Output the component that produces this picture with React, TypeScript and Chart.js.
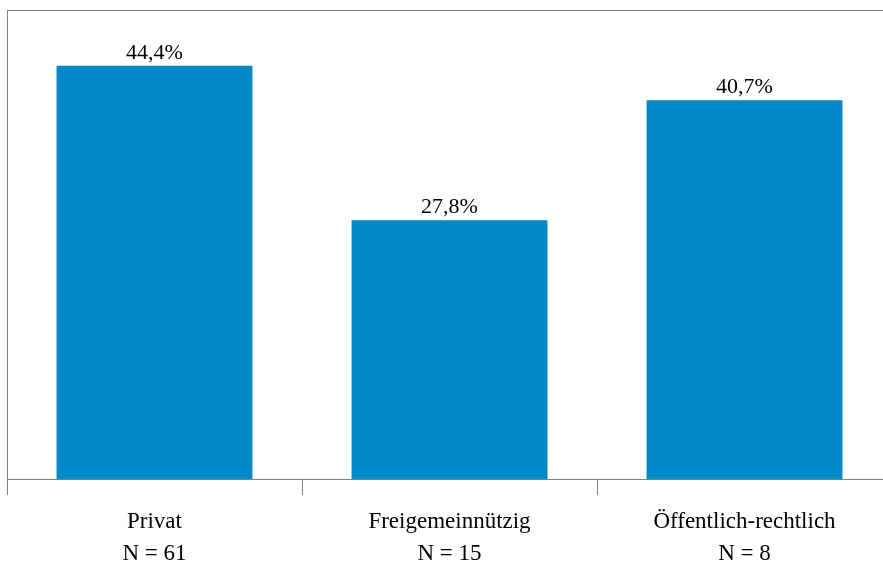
import React, { useEffect, useRef } from "react";
import { Chart, registerables } from "chart.js";

Chart.register(...registerables);

const categories = ["Privat", "Freigemeinnützig", "Öffentlich-rechtlich"];
const sampleSizes = [61, 15, 8];
const shares = [44.4, 27.8, 40.7];
const shareLabels = ["44,4%", "27,8%", "40,7%"];
const yMax = 50.4;

const FONT = "'Liberation Serif', 'Times New Roman', serif";
const LINE = "#7f7f7f";

const valueLabels = {
  id: "valueLabels",
  afterDatasetsDraw(chart: any) {
    const ctx = chart.ctx;
    const meta = chart.getDatasetMeta(0);
    ctx.save();
    ctx.font = `22px ${FONT}`;
    ctx.fillStyle = "#000";
    ctx.textAlign = "center";
    ctx.textBaseline = "alphabetic";
    meta.data.forEach((bar: any, i: number) => {
      ctx.fillText(shareLabels[i], bar.x, bar.y - 7);
    });
    ctx.restore();
  },
};

const topBorder = {
  id: "topBorder",
  afterDraw(chart: any) {
    const { ctx, chartArea } = chart;
    ctx.save();
    ctx.strokeStyle = LINE;
    ctx.lineWidth = 1;
    ctx.beginPath();
    const y = Math.round(chartArea.top) + 0.5;
    ctx.moveTo(chartArea.left, y);
    ctx.lineTo(chart.width, y);
    ctx.stroke();
    ctx.restore();
  },
};

export default function App() {
  const ref = useRef<HTMLCanvasElement>(null);
  useEffect(() => {
    document.body.style.margin = "0";
    const chart = new Chart(ref.current!, {
      type: "bar",
      data: {
        labels: categories.map((c, i) => [c, `N = ${sampleSizes[i]}`]),
        datasets: [
          {
            data: shares,
            backgroundColor: "#0088c9",
            barPercentage: 1,
            categoryPercentage: 0.664,
          },
        ],
      },
      options: {
        animation: false,
        responsive: true,
        maintainAspectRatio: false,
        layout: { padding: { left: 7, top: 10, right: 8, bottom: 0 } },
        plugins: { legend: { display: false }, tooltip: { enabled: false } },
        scales: {
          x: {
            grid: {
              offset: true,
              drawOnChartArea: false,
              drawTicks: true,
              tickLength: 16,
              color: LINE,
              lineWidth: 1,
            },
            border: { display: true, color: LINE, width: 1 },
            ticks: {
              color: "#000",
              font: { family: FONT, size: 23, lineHeight: 1.39 },
              padding: 11,
              maxRotation: 0,
            },
            afterFit(scale: any) {
              scale.height = 84;
            },
          },
          y: {
            min: 0,
            max: yMax,
            ticks: { display: false },
            grid: { display: false, drawTicks: false },
            border: { display: true, color: LINE, width: 1 },
            afterFit(scale: any) {
              scale.width = 0;
            },
          },
        },
      },
      plugins: [valueLabels, topBorder],
    });
    return () => chart.destroy();
  }, []);
  return (
    <div style={{ width: 883, height: 563, overflow: "hidden", background: "#fff" }}>
      <div style={{ width: 900, height: 563, position: "relative" }}>
        <canvas ref={ref} />
      </div>
    </div>
  );
}
